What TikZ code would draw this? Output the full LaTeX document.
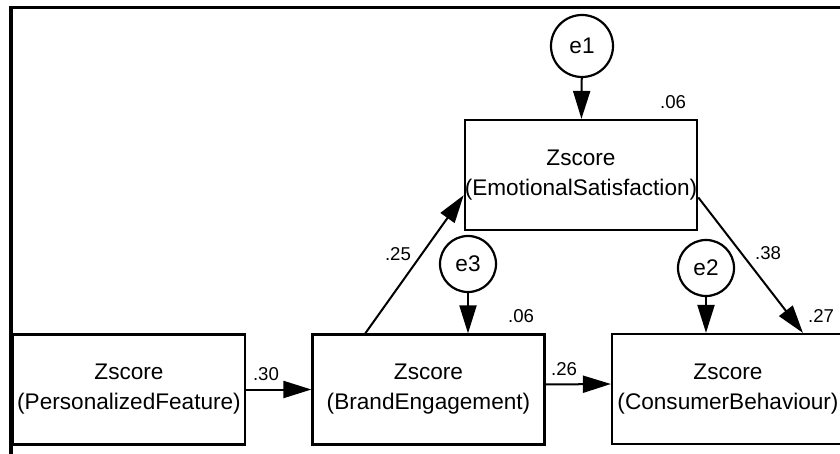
\documentclass[tikz,border=0pt]{standalone}
\usepackage{fontspec}
\setmainfont{Liberation Sans}
\usetikzlibrary{arrows.meta,positioning,calc}
\tikzset{
  obsvar/.style={rectangle,draw,line width=1.1pt,minimum width=116pt,minimum height=55pt,inner sep=0pt,align=center,font=\fontsize{11.3}{15}\selectfont},
  errvar/.style={circle,draw,line width=1.1pt,minimum size=28pt,inner sep=1pt,font=\fontsize{11.3}{13}\selectfont},
  coef/.style={inner sep=0pt,font=\fontsize{9.3}{11}\selectfont},
  every edge/.style={draw,line width=1pt,-{Triangle[length=14pt,width=8.5pt]}}
}

\begin{document}
\begin{tikzpicture}[x=0.5pt,y=-0.5pt]
  \useasboundingbox (0,0) rectangle (840,454);
  \draw[line width=1.6pt] (850,7.5) -- (11,7.5) -- (11,460);

  \node[obsvar] (pf) at (129,389.5) {Zscore\\(PersonalizedFeature)};
  \node[obsvar] (be) at (428.5,389.5) {Zscore\\(BrandEngagement)};
  \node[obsvar] (es) at (581,175) {Zscore\\(EmotionalSatisfaction)};
  \node[obsvar] (cb) at (728,389) {Zscore\\(ConsumerBehaviour)};

  \node[errvar,minimum size=31pt] (e1) at (582,46) {e1};
  \node[errvar] (e3) at (468,264) {e3};
  \node[errvar] (e2) at (706,268) {e2};

  \node[coef] (r2es) at (673,102) {.06};
  \node[coef] (r2be) at (521,316) {.06};
  \node[coef] (r2cb) at (821,316) {.27};
  \node[coef] (b1) at (266,374) {.30};
  \node[coef] (b2) at (398,254) {.25};
  \node[coef] (b3) at (564,369) {.26};
  \node[coef] (b4) at (768,253) {.38};

  \path
    (pf) edge (be)
    ([yshift=2.5pt]be.east) edge ([yshift=2.5pt]cb.west)
    ($(be.north west)!0.23!(be.north east)$) edge ($(es.north west)!0.68!(es.south west)$)
    ($(es.north east)!0.70!(es.south east)$) edge ($(cb.north west)!0.82!(cb.north east)$)
    (e1) edge (es)
    (e3) edge (e3 |- be.north)
    (e2) edge (e2 |- cb.north);
\end{tikzpicture}
\end{document}
